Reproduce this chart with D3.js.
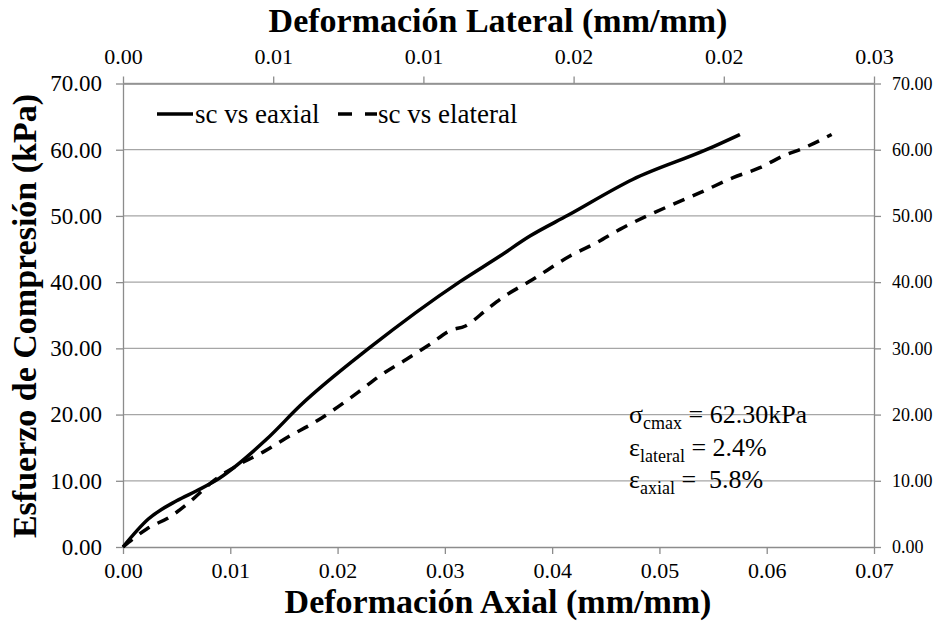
<!DOCTYPE html>
<html>
<head>
<meta charset="utf-8">
<script src="https://cdn.jsdelivr.net/npm/d3@7"></script>
</head>
<body style="margin:0;background:#fff">
<svg id="chart" width="939" height="621"></svg>
<script>
// sc vs eaxial (bottom axis)
var axialStrain = [0, 0.00236, 0.0050, 0.00687, 0.00857, 0.0134, 0.01650, 0.02302, 0.03141, 0.03514, 0.03793, 0.04147, 0.0475, 0.05443, 0.0575];
var axialStress = [0, 4.22, 6.98, 8.49, 9.96, 16.3, 21.32, 30.13, 40.08, 43.95, 46.96, 50.09, 55.5, 60.04, 62.30];

// sc vs elateral (top axis)
var lateralStrain = [0, 0.00033, 0.00079, 0.00162, 0.00233, 0.00300, 0.00389, 0.00466, 0.00556, 0.00628, 0.00782, 0.00855, 0.00944, 0.01022, 0.01092, 0.01138, 0.01212, 0.01255, 0.01365, 0.01488, 0.01577, 0.01654, 0.01743, 0.01831, 0.01921, 0.02031, 0.0212, 0.02209, 0.02254, 0.02359];
var lateralStress = [0, 1.21, 2.72, 4.72, 7.24, 9.96, 12.52, 14.33, 16.79, 18.56, 23.34, 25.84, 28.36, 30.62, 32.74, 33.34, 35.90, 37.41, 40.43, 43.95, 45.97, 47.97, 49.98, 51.75, 53.51, 55.78, 57.28, 59.29, 60.04, 62.30];

var bottomTicks = [0, 0.01, 0.02, 0.03, 0.04, 0.05, 0.06, 0.07];
var bottomLabels = ['0.00','0.01','0.02','0.03','0.04','0.05','0.06','0.07'];
var topTicks = [0, 0.005, 0.01, 0.015, 0.02, 0.025];
var topLabels = ['0.00','0.01','0.01','0.02','0.02','0.03'];
var yTicks = [0, 10, 20, 30, 40, 50, 60, 70];

var FONT = 'Liberation Serif';

var margin = {top: 83.5, right: 65, bottom: 74, left: 123},
    width = 939 - margin.left - margin.right,
    height = 621 - margin.top - margin.bottom;

var root = d3.select('#chart');
var svg = root.
    append('g').
    attr('transform', 'translate(' + margin.left + ',' + margin.top + ')');

var x = d3.scaleLinear().domain([0, 0.07]).range([0, width]);
var xTop = d3.scaleLinear().domain([0, 0.025]).range([0, width]);
var y = d3.scaleLinear().domain([0, 70]).range([height, 0]);

var gridColor = '#a6a6a6', axisColor = '#8c8c8c';

// gridlines
svg.append('g').
    selectAll('line').
    data(yTicks.slice(1)).
    enter().
    append('line').
    attr('x1', 0).attr('x2', width).
    attr('y1', function(d) { return y(d) }).
    attr('y2', function(d) { return y(d) }).
    attr('stroke', gridColor).attr('stroke-width', 1.3);

function styleAxis(g, size) {
    g.select('.domain').attr('stroke', axisColor).attr('stroke-width', 1.3);
    g.selectAll('.tick line').attr('stroke', axisColor).attr('stroke-width', 1.3);
    g.selectAll('text').attr('fill', '#000').attr('font-size', size);
}

// bottom axis
svg.append('g').
    attr('transform', 'translate(0,' + height + ')').
    call(d3.axisBottom(x).tickValues(bottomTicks).tickSize(7).tickSizeOuter(0).tickPadding(8).
	 tickFormat(function(d, i) { return bottomLabels[i] })).
    call(styleAxis, 22);

// top axis
svg.append('g').
    call(d3.axisTop(xTop).tickValues(topTicks).tickSize(7).tickSizeOuter(0).tickPadding(13).
	 tickFormat(function(d, i) { return topLabels[i] })).
    call(styleAxis, 22);

// left axis
svg.append('g').
    call(d3.axisLeft(y).tickValues(yTicks).tickSize(7).tickSizeOuter(0).tickPadding(14).
	 tickFormat(d3.format('.2f'))).
    call(styleAxis, 23);

// right axis
svg.append('g').
    attr('transform', 'translate(' + width + ',0)').
    call(d3.axisRight(y).tickValues(yTicks).tickSize(7).tickSizeOuter(0).tickPadding(11).
	 tickFormat(d3.format('.2f'))).
    call(styleAxis, 18);

// series
var lineAxial = d3.line().
    x(function(d, i) { return x(axialStrain[i]) }).
    y(function(d) { return y(d) }).
    curve(d3.curveMonotoneX);
var lineLateral = d3.line().
    x(function(d, i) { return xTop(lateralStrain[i]) }).
    y(function(d) { return y(d) }).
    curve(d3.curveMonotoneX);

svg.append('path').
    datum(axialStress).
    attr('d', lineAxial).
    attr('fill', 'none').attr('stroke', '#000').attr('stroke-width', 3.5).
    attr('stroke-linejoin', 'round');

svg.append('path').
    datum(lateralStress).
    attr('d', lineLateral).
    attr('fill', 'none').attr('stroke', '#000').attr('stroke-width', 3.5).
    attr('stroke-dasharray', '12,9');

// legend
var legend = root.append('g');
legend.append('line').attr('x1', 157).attr('x2', 193).attr('y1', 114).attr('y2', 114).
    attr('stroke', '#000').attr('stroke-width', 3.5);
legend.append('text').attr('x', 195).attr('y', 123).attr('font-size', 27).text('sc vs eaxial');
legend.append('line').attr('x1', 338).attr('x2', 377).attr('y1', 114).attr('y2', 114).
    attr('stroke', '#000').attr('stroke-width', 3.5).attr('stroke-dasharray', '14,13');
legend.append('text').attr('x', 378).attr('y', 123).attr('font-size', 27).text('sc vs elateral');

// annotation
var notes = [
    ['σ', 'cmax', ' = 62.30kPa'],
    ['ε', 'lateral', ' = 2.4%'],
    ['ε', 'axial', ' =  5.8%']
];
notes.forEach(function(n, i) {
    var t = root.append('text').attr('x', 629).attr('y', 423 + i * 32.5).attr('font-size', 26).
	attr('xml:space', 'preserve').style('white-space', 'pre');
    t.append('tspan').attr('font-size', 26).text(n[0]);
    t.append('tspan').attr('dy', 6).attr('font-size', 18).text(n[1]);
    t.append('tspan').attr('dy', -6).attr('font-size', 26).text(n[2]);
});

// titles
root.append('text').attr('x', 498).attr('y', 32).attr('text-anchor', 'middle').
    attr('font-size', 34).attr('font-weight', 'bold').text('Deformación Lateral (mm/mm)');
root.append('text').attr('x', 498).attr('y', 613).attr('text-anchor', 'middle').
    attr('font-size', 34).attr('font-weight', 'bold').text('Deformación Axial (mm/mm)');
root.append('text').attr('transform', 'translate(36,316)rotate(-90)').attr('text-anchor', 'middle').
    attr('font-size', 34).attr('font-weight', 'bold').text('Esfuerzo de Compresión (kPa)');

// put the serif font straight on every text node
root.selectAll('text, tspan').attr('font-family', FONT);
</script>
</body>
</html>
